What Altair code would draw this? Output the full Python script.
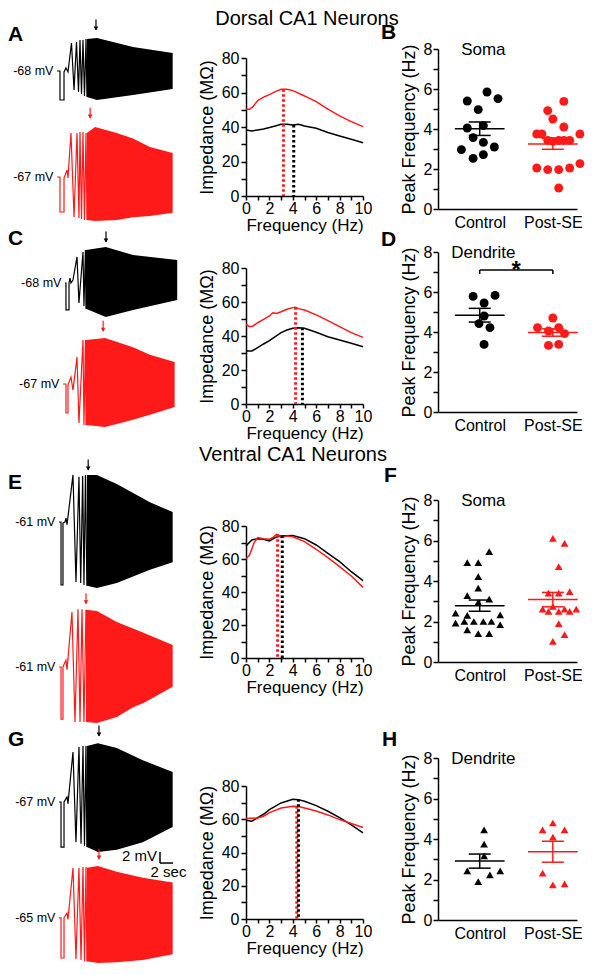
import altair as alt
import numpy as np
import pandas as pd

FONT = "Liberation Sans"
BLK = "#000000"
RED = "#ff1a1a"
W, H = 586, 955

# ---------------- voltage traces: time (s), voltage (mV relative to rest) ----------------
A_blk_t = [0, 0.46, 0.46, 1.08, 1.08, 1.38, 1.69, 2.23, 2.62, 3.0, 3.31, 3.54, 3.77, 4.0, 4.23, 4.46, 4.62]
A_blk_v = [0, 0, -5.27, -5.27, -0.18, 0.55, -0.18, 5.09, -3.45, 5.27, -3.82, 5.64, -4.18, 5.64, -4.55, 5.82, -4.73]
A_blk_env_t = [4.6, 6.15, 11.7, 17.8]
A_blk_env_hi = [5.8, 6.0, 4.36, 3.27]
A_blk_env_lo = [-4.73, -5.27, -4.36, -3.27]

A_red_t = [0, 0.46, 0.46, 1.08, 1.08, 1.54, 1.69, 2.15, 2.62, 3.08, 3.38, 3.54, 3.77, 4.0, 4.23, 4.46, 4.62]
A_red_v = [0, 0, -6.36, -6.36, -0.18, 1.27, -0.18, 8.0, -7.27, 8.0, -7.45, 8.18, -7.64, 8.18, -7.82, 8.0, -7.82]
A_red_env_t = [4.6, 5.85, 9.2, 11.7, 14.3, 17.8]
A_red_env_hi = [8.0, 9.1, 8.0, 7.0, 5.45, 4.36]
A_red_env_lo = [-7.8, -8.0, -7.8, -7.3, -7.1, -6.5]

C_blk_t = [1.23, 1.38, 1.38, 1.85, 1.85, 2.0, 2.15, 2.46, 3.08, 3.38, 4.0, 4.15, 4.38, 4.46]
C_blk_v = [0, 0, -4.9, -4.9, 0, 0.9, 0, 0.55, 4.73, -3.64, 5.64, -4.18, 6.0, -4.7]
C_blk_env_t = [4.46, 7.5, 11.7, 18.5]
C_blk_env_hi = [6.0, 6.55, 5.1, 4.2]
C_blk_env_lo = [-4.7, -6.2, -4.9, -3.1]

C_red_t = [0.92, 1.38, 1.38, 1.69, 1.69, 2.15, 2.46, 3.08, 3.38, 4.0, 4.15, 4.38, 4.46]
C_red_v = [0, 0, -5.27, -5.27, -0.18, 1.27, -1.1, 4.9, -7.1, 8.0, -7.45, 8.0, -7.45]
C_red_env_t = [4.46, 7.4, 11.7, 14.3, 18.1]
C_red_env_hi = [8.0, 8.36, 6.7, 5.3, 4.0]
C_red_env_lo = [-7.45, -7.8, -6.5, -5.6, -4.2]

E_blk_t = [0.31, 0.62, 0.62, 0.92, 0.92, 1.23, 1.38, 1.54, 2.46, 2.92, 3.38, 3.65, 3.95, 4.15, 4.38, 4.6]
E_blk_v = [0, 0, -11.45, -11.45, -0.2, 0, 0.7, -0.5, 8.55, -10.9, 8.2, -11.1, 8.36, -11.45, 8.55, -11.6]
E_blk_env_t = [4.6, 6.15, 9.2, 14.3, 17.8]
E_blk_env_hi = [8.55, 8.55, 6.9, 3.6, 1.8]
E_blk_env_lo = [-11.6, -12.0, -11.1, -8.7, -7.3]

E_red_t = [0.31, 0.62, 0.62, 0.92, 0.92, 1.38, 1.54, 2.3, 2.77, 3.23, 3.54, 3.85, 4.15, 4.46]
E_red_v = [0, 0, -9.5, -9.5, 0, 1.27, -0.5, 10.0, -10.0, 10.5, -10.0, 10.5, -10.0, 10.4]
E_red_env_t = [4.46, 6.15, 9.2, 11.7, 13.4, 17.8]
E_red_env_hi = [10.4, 10.2, 8.2, 7.0, 6.2, 4.0]
E_red_env_lo = [-10.0, -10.2, -9.1, -7.3, -6.5, -3.6]

G_blk_t = [0.31, 0.62, 0.62, 1.08, 1.08, 1.54, 1.69, 2.46, 2.92, 3.38, 3.7, 4.0, 4.23, 4.46, 4.6]
G_blk_v = [0, 0, -8.2, -8.2, 0, 0.9, -0.3, 9.1, -7.3, 10.0, -7.6, 10.2, -8.0, 10.2, -8.2]
G_blk_env_t = [4.6, 6.3, 9.2, 13.2, 17.8]
G_blk_env_hi = [10.2, 10.7, 9.8, 7.6, 5.45]
G_blk_env_lo = [-8.2, -9.1, -8.7, -7.3, -4.55]

G_red_t = [0.31, 0.62, 0.62, 1.08, 1.08, 1.54, 1.69, 2.46, 2.92, 3.38, 3.7, 4.0, 4.23, 4.46, 4.6]
G_red_v = [0, 0, -7.6, -7.6, 0, 0.9, -0.3, 9.45, -7.8, 9.45, -8.0, 9.6, -8.2, 9.6, -8.2]
G_red_env_t = [4.6, 6.3, 9.2, 13.2, 17.8]
G_red_env_hi = [9.45, 9.8, 8.7, 7.6, 6.7]
G_red_env_lo = [-8.2, -8.55, -8.4, -8.0, -6.9]

REST_LABELS = ["-68 mV", "-67 mV", "-68 mV", "-67 mV", "-61 mV", "-61 mV", "-67 mV", "-65 mV"]
PEAK_ARROW_T = [6.0, 5.1, 7.54, 7.1, 4.8, 4.46, 6.46, 6.46]
PEAK_ARROW_V = [7.45, 10.7, 7.45, 9.6, 9.45, 11.5, 12.0, 11.1]

SCALEBAR_T = [15.85, 17.85]   # 2 sec
SCALEBAR_V = [-9.1, -11.1]    # 2 mV

# ---------------- impedance profiles: frequency (Hz), impedance (MOhm) ----------------
IA_f_blk = [0, 0.5, 1, 1.5, 2, 2.5, 3, 3.5, 4, 4.5, 5, 6, 7, 8, 9, 10]
IA_z_blk = [38.3, 37.7, 38.3, 38.9, 39.7, 40.6, 41.6, 41.6, 41.2, 41.6, 40.6, 39.3, 36.8, 34.8, 32.9, 30.9]
IA_f_red = [0, 0.3, 0.6, 1, 1.5, 2, 2.5, 3, 3.5, 4, 5, 6, 7, 8, 9, 10]
IA_z_red = [50.3, 50.3, 51.8, 55.3, 57.3, 58.8, 60.5, 61.9, 61.9, 61.1, 58.0, 54.7, 50.3, 46.4, 43.1, 40.2]
IA_peak_f = [3.2, 4.08]
IA_peak_z = [61.9, 41.2]

IC_f_blk = [0, 0.5, 1, 1.5, 2, 2.5, 3, 3.5, 4, 4.5, 5, 6, 7, 8, 9, 10]
IC_z_blk = [31.2, 31.2, 33.1, 35.3, 37.3, 39.6, 42.0, 43.5, 44.5, 44.9, 44.5, 42.2, 39.6, 37.6, 35.7, 33.7]
IC_f_red = [0, 0.3, 0.6, 1, 1.5, 2, 2.3, 2.6, 3, 3.5, 4, 4.2, 4.5, 5, 6, 7, 8, 9, 10]
IC_z_red = [46.9, 45.5, 45.9, 47.8, 49.8, 51.8, 53.7, 53.3, 54.3, 55.7, 56.7, 56.9, 56.1, 55.3, 52.4, 49.0, 45.5, 42.0, 39.2]
IC_peak_f = [4.24, 4.82]
IC_peak_z = [56.9, 44.9]

IE_f_blk = [0, 0.5, 1, 1.5, 2, 2.5, 3, 4, 5, 6, 7, 8, 9, 10]
IE_z_blk = [67.9, 71.5, 72.3, 72.0, 71.0, 73.0, 74.0, 74.3, 72.3, 68.5, 63.4, 58.4, 52.3, 46.9]
IE_f_red = [0, 0.3, 0.7, 1, 1.5, 2, 2.3, 2.6, 2.8, 3, 3.5, 4, 5, 6, 7, 8, 9, 10]
IE_z_red = [60.0, 62.4, 70.0, 73.0, 72.3, 72.0, 73.0, 75.0, 74.5, 73.0, 74.0, 73.5, 70.5, 65.9, 60.8, 55.4, 49.7, 42.8]
IE_peak_f = [2.7, 3.1]
IE_peak_z = [75.0, 74.2]

IG_f_blk = [0, 0.5, 1, 1.5, 2, 3, 4, 4.5, 5, 6, 7, 8, 9, 10]
IG_z_blk = [59.4, 58.8, 61.0, 63.0, 65.8, 69.8, 72.0, 71.8, 70.8, 68.2, 64.8, 61.0, 56.6, 51.8]
IG_f_red = [0, 1, 1.5, 2, 3, 4, 4.5, 5, 6, 7, 8, 9, 10]
IG_z_red = [60.4, 60.8, 61.8, 64.0, 66.8, 67.8, 67.6, 66.8, 65.0, 62.6, 59.8, 57.4, 55.0]
IG_peak_f = [4.34, 4.48]
IG_peak_z = [67.8, 72.0]

# ---------------- peak frequency scatter (Hz); jitter offsets from group centre ----------------
GROUPS = ["Control", "Post-SE"]
B_ctl_off = [0.10, -0.17, 0.25, -0.02, -0.17, 0.05, -0.09, 0.05, 0.20, -0.25, -0.09, 0.05]
B_ctl_val = [5.85, 5.40, 5.52, 4.97, 4.05, 4.17, 3.57, 3.33, 3.10, 2.97, 2.53, 2.72]
B_pse_off = [0.15, -0.07, 0.0, 0.15, -0.22, -0.15, 0.37, -0.07, 0.0, 0.08, 0.15, 0.23, -0.22, -0.07, 0.08, 0.23, 0.37, 0.08]
B_pse_val = [5.38, 4.92, 4.50, 4.10, 3.75, 3.75, 3.75, 3.43, 3.38, 3.43, 3.43, 3.43, 2.05, 1.97, 1.97, 2.05, 2.27, 1.05]

D_ctl_off = [-0.09, 0.21, 0.06, 0.06, -0.01, 0.14, 0.06]
D_ctl_val = [5.78, 5.83, 5.45, 4.80, 4.42, 4.22, 3.38]
D_pse_off = [0.0, -0.21, -0.06, 0.08, 0.16, -0.06, 0.08]
D_pse_val = [4.70, 4.22, 4.05, 4.22, 3.92, 3.33, 3.38]

F_ctl_off = [0.13, -0.17, -0.02, -0.02, -0.02, -0.17, 0.13, -0.02, -0.33, -0.17, 0.28, -0.33, -0.21, -0.08, 0.05, 0.16, 0.28, -0.17, -0.02, 0.13]
F_ctl_val = [5.45, 4.91, 4.91, 4.22, 3.65, 3.28, 3.10, 2.94, 2.41, 2.30, 2.33, 1.92, 2.00, 2.00, 2.00, 2.00, 1.84, 1.59, 1.40, 1.40]
F_pse_off = [0.0, 0.16, 0.08, -0.06, 0.08, 0.23, -0.14, -0.06, 0.0, 0.08, 0.16, 0.23, 0.32, 0.08, 0.16, 0.0]
F_pse_val = [6.11, 5.86, 4.71, 3.40, 3.40, 3.48, 2.61, 2.50, 2.74, 2.50, 2.61, 2.50, 2.61, 1.89, 1.35, 1.02]

H_ctl_off = [0.06, 0.06, 0.06, -0.17, 0.14, 0.28, -0.02]
H_ctl_val = [4.45, 3.75, 3.17, 2.43, 2.23, 2.43, 1.90]
H_pse_off = [0.0, -0.14, 0.16, 0.0, -0.14, 0.0, 0.16]
H_pse_val = [4.79, 4.45, 4.45, 4.09, 2.31, 1.73, 1.78]

# =====================================================================================
TRACE_X = alt.Scale(domain=[-7.54, 18.62], range=[0, 170])


def trace_panel(i, t, v, et, ehi, elo, color, y_range, v_dom, scalebar=False):
    ys = alt.Scale(domain=list(v_dom), range=list(y_range))

    def X(f):
        return alt.X(f, type="quantitative", scale=TRACE_X, axis=None)

    def Y(f):
        return alt.Y(f, type="quantitative", scale=ys, axis=None)

    env = pd.DataFrame({"t": et, "hi": ehi, "lo": elo})
    init = pd.DataFrame({"t": t, "v": v, "i": list(range(len(t)))})
    area = alt.Chart(env).mark_area(color=color, opacity=1, strokeWidth=0).encode(
        x=X("t"), y=Y("hi"), y2="lo")
    line = alt.Chart(init).mark_line(color=color, strokeWidth=1.2).encode(
        x=X("t"), y=Y("v"), order=alt.Order("i:Q"))
    lab = alt.Chart(pd.DataFrame({"t": [t[0] - 0.55], "v": [0.0], "s": [REST_LABELS[i]]})).mark_text(
        align="right", baseline="middle", font=FONT, fontSize=12.5, color=BLK).encode(
        x=X("t"), y=Y("v"), text="s:N")
    arr = pd.DataFrame({"t": [PEAK_ARROW_T[i]], "v": [PEAK_ARROW_V[i]], "v2": [PEAK_ARROW_V[i] + 1.9]})
    shaft = alt.Chart(arr).mark_rule(color=color, strokeWidth=1.2).encode(x=X("t"), y=Y("v"), y2="v2")
    head = alt.Chart(arr).mark_point(shape="triangle-down", filled=True, size=22, color=color,
                                     opacity=1, yOffset=-1.5).encode(x=X("t"), y=Y("v"))
    layers = [area, line, lab, shaft, head]
    if scalebar:
        sb = pd.DataFrame({"t1": [SCALEBAR_T[0]], "t2": [SCALEBAR_T[1]],
                           "v1": [SCALEBAR_V[0]], "v2": [SCALEBAR_V[1]]})
        vbar = alt.Chart(sb).mark_rule(color=BLK, strokeWidth=1.5).encode(x=X("t1"), y=Y("v1"), y2="v2")
        hbar = alt.Chart(sb).mark_rule(color=BLK, strokeWidth=1.5).encode(x=X("t1"), x2="t2", y=Y("v2"))
        mv = alt.Chart(sb.assign(s="2 mV")).mark_text(align="right", baseline="middle", font=FONT,
                                                     fontSize=15, dx=-3, dy=4).encode(
            x=X("t1"), y=Y("v1"), text="s:N")
        sec = alt.Chart(sb.assign(tm=(sb.t1 + sb.t2) / 2, s="2 sec")).mark_text(
            align="center", baseline="top", font=FONT, fontSize=15, dy=2, dx=2).encode(
            x=X("tm"), y=Y("v2"), text="s:N")
        layers += [vbar, hbar, mv, sec]
    return alt.layer(*layers)


def imp_panel(fb, zb, fr, zr, pk_f, pk_z, y_range):
    xs = alt.Scale(domain=[0, 10], range=[238, 355])
    ys = alt.Scale(domain=[0, 80], range=list(y_range))
    xax = alt.Axis(orient="bottom", offset=y_range[0] - H, values=list(range(11)),
                   labelExpr="datum.value % 2 === 0 ? datum.label : ''", title="Frequency (Hz)",
                   titleFontSize=17, tickSize=4, labelPadding=0, titlePadding=1,
                   labelFlush=False, labelOverlap=False)
    yax = alt.Axis(orient="left", offset=-238, values=list(range(0, 81, 10)),
                   labelExpr="datum.value % 20 === 0 ? datum.label : ''", title="Impedance (MΩ)",
                   tickSize=5, labelPadding=2, titlePadding=5, labelOverlap=False)

    def X(f):
        return alt.X(f, type="quantitative", scale=xs, axis=xax)

    def Y(f):
        return alt.Y(f, type="quantitative", scale=ys, axis=yax)

    curves = pd.DataFrame({"f": fb + fr, "z": zb + zr,
                           "c": [BLK] * len(fb) + [RED] * len(fr)})
    peaks = pd.DataFrame({"f": pk_f, "z": pk_z, "c": [RED, BLK]})
    lines = alt.Chart(curves).mark_line(strokeWidth=1.5).encode(
        x=X("f"), y=Y("z"), color=alt.Color("c:N", scale=None), detail="c:N")
    dots = alt.Chart(peaks).mark_rule(strokeWidth=3, strokeDash=[2.5, 2.5]).encode(
        x=X("f"), y=Y("z"), y2=alt.datum(0), color=alt.Color("c:N", scale=None))
    return alt.layer(lines, dots)


def scatter_panel(c_off, c_val, p_off, p_val, shape, size, y_range, site, star=False):
    xs = alt.Scale(domain=[0.43, 2.33], range=[430, 569])
    ys = alt.Scale(domain=[0, 8], range=list(y_range))
    xax = alt.Axis(orient="bottom", offset=y_range[0] - H, values=[1, 2],
                   labelExpr="datum.value == 1 ? 'Control' : 'Post-SE'", ticks=False, title=None,
                   labelPadding=5, labelFlush=False, labelOverlap=False)
    yax = alt.Axis(orient="left", offset=-430, values=list(range(9)),
                   labelExpr="datum.value % 2 === 0 ? datum.label : ''", title="Peak Frequency (Hz)",
                   tickSize=5, labelPadding=1, titlePadding=5, labelOverlap=False)

    def X(f):
        return alt.X(f, type="quantitative", scale=xs, axis=xax)

    def Y(f):
        return alt.Y(f, type="quantitative", scale=ys, axis=yax)

    pts = pd.DataFrame({"x": [1 + o for o in c_off] + [2 + o for o in p_off],
                        "v": c_val + p_val,
                        "c": [BLK] * len(c_val) + [RED] * len(p_val)})
    rows = []
    for g, vals, col in [(1, c_val, BLK), (2, p_val, RED)]:
        a = np.array(vals)
        m = a.mean()
        s = a.std(ddof=1) / np.sqrt(len(a))
        rows.append(dict(g=g, m=m, lo=m - s, hi=m + s, c=col))
    st = pd.DataFrame(rows)
    st["mx1"], st["mx2"] = st.g - 0.34, st.g + 0.34
    st["cx1"], st["cx2"] = st.g - 0.15, st.g + 0.15
    col = alt.Color("c:N", scale=None)
    points = alt.Chart(pts).mark_point(filled=True, shape=shape, size=size, opacity=1).encode(
        x=X("x"), y=Y("v"), color=col)
    mean = alt.Chart(st).mark_rule(strokeWidth=1.5).encode(x=X("mx1"), x2="mx2", y=Y("m"), color=col)
    err = alt.Chart(st).mark_rule(strokeWidth=1.5).encode(x=X("g"), y=Y("lo"), y2="hi", color=col)
    caplo = alt.Chart(st).mark_rule(strokeWidth=1.5).encode(x=X("cx1"), x2="cx2", y=Y("lo"), color=col)
    caphi = alt.Chart(st).mark_rule(strokeWidth=1.5).encode(x=X("cx1"), x2="cx2", y=Y("hi"), color=col)
    lab = alt.Chart(pd.DataFrame({"x": [1.05], "y": [7.95], "s": [site]})).mark_text(
        font=FONT, fontSize=17, baseline="middle", align="center").encode(x=X("x"), y=Y("y"), text="s:N")
    layers = [points, mean, err, caplo, caphi, lab]
    if star:
        br = pd.DataFrame({"x1": [1.0], "x2": [2.0], "y": [7.1], "yb": [6.9], "xm": [1.5], "s": ["*"]})
        layers += [
            alt.Chart(br).mark_rule(strokeWidth=1.5, color=BLK).encode(x=X("x1"), x2="x2", y=Y("y")),
            alt.Chart(br).mark_rule(strokeWidth=1.5, color=BLK).encode(x=X("x1"), y=Y("y"), y2="yb"),
            alt.Chart(br).mark_rule(strokeWidth=1.5, color=BLK).encode(x=X("x2"), y=Y("y"), y2="yb"),
            alt.Chart(br).mark_text(font=FONT, fontSize=24, fontWeight="bold", baseline="alphabetic",
                                    dy=8).encode(x=X("xm"), y=Y("y"), text="s:N"),
        ]
    return alt.layer(*layers)


def label(text, x, y, size=21, bold=True, align="left", baseline="middle"):
    return alt.Chart(pd.DataFrame({"s": [text]})).mark_text(
        font=FONT, fontSize=size, fontWeight="bold" if bold else "normal", align=align,
        baseline=baseline, color=BLK).encode(x=alt.value(x), y=alt.value(y), text="s:N")


panels = [
    trace_panel(0, A_blk_t, A_blk_v, A_blk_env_t, A_blk_env_hi, A_blk_env_lo, BLK, (98, 0), (-6.36, 11.45)),
    trace_panel(1, A_red_t, A_red_v, A_red_env_t, A_red_env_hi, A_red_env_lo, RED, (218, 98), (-8.9, 12.9)),
    trace_panel(2, C_blk_t, C_blk_v, C_blk_env_t, C_blk_env_hi, C_blk_env_lo, BLK, (312, 218), (-6.73, 10.36)),
    trace_panel(3, C_red_t, C_red_v, C_red_env_t, C_red_env_hi, C_red_env_lo, RED, (432, 312), (-10.18, 11.64)),
    trace_panel(4, E_blk_t, E_blk_v, E_blk_env_t, E_blk_env_hi, E_blk_env_lo, BLK, (587, 432), (-13.27, 14.9)),
    trace_panel(5, E_red_t, E_red_v, E_red_env_t, E_red_env_hi, E_red_env_lo, RED, (717, 587), (-10.55, 13.09)),
    trace_panel(6, G_blk_t, G_blk_v, G_blk_env_t, G_blk_env_hi, G_blk_env_lo, BLK, (858, 717), (-11.64, 14.0),
                scalebar=True),
    trace_panel(7, G_red_t, G_red_v, G_red_env_t, G_red_env_hi, G_red_env_lo, RED, (955, 858), (-8.55, 9.8)),
    imp_panel(IA_f_blk, IA_z_blk, IA_f_red, IA_z_red, IA_peak_f, IA_peak_z, (188, 50)),
    imp_panel(IC_f_blk, IC_z_blk, IC_f_red, IC_z_red, IC_peak_f, IC_peak_z, (396, 260)),
    imp_panel(IE_f_blk, IE_z_blk, IE_f_red, IE_z_red, IE_peak_f, IE_peak_z, (650, 518)),
    imp_panel(IG_f_blk, IG_z_blk, IG_f_red, IG_z_red, IG_peak_f, IG_peak_z, (911, 778)),
    scatter_panel(B_ctl_off, B_ctl_val, B_pse_off, B_pse_val, "circle", 80, (201, 41), "Soma"),
    scatter_panel(D_ctl_off, D_ctl_val, D_pse_off, D_pse_val, "circle", 80, (404, 244), "Dendrite", star=True),
    scatter_panel(F_ctl_off, F_ctl_val, F_pse_off, F_pse_val, "triangle-up", 60, (654, 492), "Soma"),
    scatter_panel(H_ctl_off, H_ctl_val, H_pse_off, H_pse_val, "triangle-up", 60, (912, 750), "Dendrite"),
    label("Dorsal CA1 Neurons", 299, 1, size=20, bold=False, align="center", baseline="top"),
    label("Ventral CA1 Neurons", 285, 447, size=20, bold=False, align="center"),
    label("A", 0, 27), label("C", 0, 231), label("E", 0, 475), label("G", 0, 732),
    label("B", 373, 25), label("D", 373, 232), label("F", 376, 468), label("H", 374, 732),
]

chart = (
    alt.layer(*panels)
    .resolve_scale(x="independent", y="independent")
    .resolve_axis(x="independent", y="independent")
    .properties(width=W, height=H, padding=0)
    .configure_view(strokeWidth=0)
    .configure_axis(labelFont=FONT, titleFont=FONT, labelFontSize=16, titleFontSize=18,
                    labelColor=BLK, titleColor=BLK, domainColor=BLK, tickColor=BLK,
                    domainWidth=1.5, tickWidth=1.5, grid=False, titleFontWeight="normal")
)

chart.save("out.html", embed_options={"renderer": "svg", "actions": False})
